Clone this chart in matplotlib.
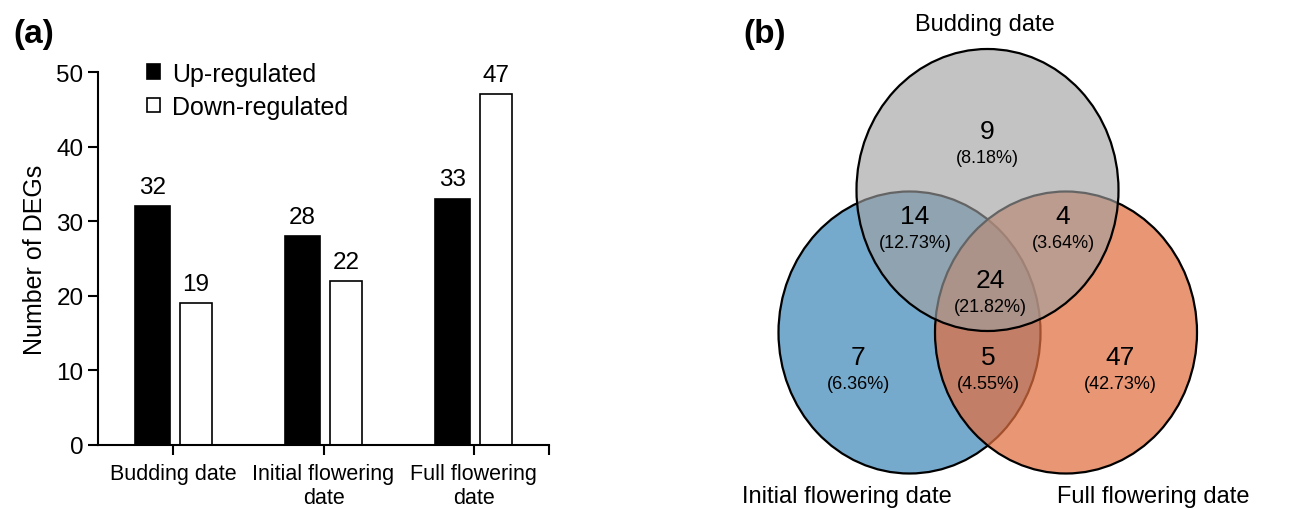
import numpy as np
import matplotlib.pyplot as plt
from matplotlib.patches import Ellipse

plt.rcParams['font.family'] = ['Liberation Sans', 'DejaVu Sans']

# (a) bar chart data
stages = ['Budding date', 'Initial flowering\ndate', 'Full flowering\ndate']
up = [32, 28, 33]
down = [19, 22, 47]

# (b) venn data
set_names = ['Budding date', 'Initial flowering date', 'Full flowering date']
regions = ['B', 'I', 'F', 'BI', 'BF', 'IF', 'BIF']
region_counts = [9, 7, 47, 14, 4, 5, 24]

fig = plt.figure(figsize=(13.08, 5.10), dpi=100)
W, H = 1308, 510

# ---- panel (a)
ax = fig.add_axes([98 / W, 64 / H, 451 / W, 373 / H])
x = np.arange(len(stages))
b1 = ax.bar(x - 0.139, up, 0.232, color='black', edgecolor='black', lw=1.2,
            label='Up-regulated')
b2 = ax.bar(x + 0.149, down, 0.213, color='white', edgecolor='black', lw=1.2,
            label='Down-regulated')
ax.bar_label(b1, padding=6, fontsize=17.5)
ax.bar_label(b2, padding=6, fontsize=17.5)

ax.set_xlim(-0.5, 2.5)
ax.set_ylim(0, 50)
ax.set_yticks(range(0, 51, 10))
ax.set_xticks(x)
ax.set_xticklabels(stages)
ax.set_xticks([2.5], minor=True)
ax.tick_params(axis='both', which='both', direction='out', length=7, width=1.5)
ax.tick_params(axis='y', labelsize=17.5)
ax.tick_params(axis='x', labelsize=15.5, pad=6)
for s in ['top', 'right']:
    ax.spines[s].set_visible(False)
for s in ['left', 'bottom']:
    ax.spines[s].set_linewidth(1.5)
ax.set_ylabel('Number of DEGs', fontsize=18, labelpad=7)

ax.legend(loc='upper left', bbox_to_anchor=(0.109, 1.028), frameon=False,
          fontsize=18, handlelength=0.52, handleheight=0.52, handletextpad=0.48,
          labelspacing=0.38, borderpad=0, borderaxespad=0)

# ---- panel (b)
ax2 = fig.add_axes([700 / W, 0, 608 / W, 1])
ax2.set_xlim(700, 1308)
ax2.set_ylim(510, 0)
ax2.axis('off')

cw, ch = 262, 282
circles = [
    ((909.5, 333.5), (118 / 255, 170 / 255, 205 / 255, 1.0)),   # initial
    ((1066, 333.5), (225 / 255, 110 / 255, 62 / 255, 0.72)),    # full
    ((987.5, 191), (160 / 255, 160 / 255, 160 / 255, 0.63)),    # budding
]
for z, (c, col) in enumerate(circles):
    ax2.add_patch(Ellipse(c, cw, ch, facecolor=col, edgecolor='black',
                          lw=1.6, zorder=z + 1))

label_pos = {'B': (987, 132), 'I': (858, 358), 'F': (1120, 358),
             'BI': (915, 217), 'BF': (1063, 217), 'IF': (988, 358),
             'BIF': (990, 281)}
total = sum(region_counts)
for r, n in zip(regions, region_counts):
    px, py = label_pos[r]
    ax2.text(px, py, str(n), ha='center', va='center', fontsize=19, zorder=5)
    ax2.text(px, py + 27, '(%.2f%%)' % (100 * n / total), ha='center',
             va='center', fontsize=13, zorder=5)

set_pos = [(985, 25), (847, 497), (1153, 497)]
for name, (px, py) in zip(set_names, set_pos):
    ax2.text(px, py, name, ha='center', va='center', fontsize=17)

fig.text(13 / W, 1 - 35 / H, '(a)', fontsize=24, fontweight='bold', va='center')
fig.text(743 / W, 1 - 35 / H, '(b)', fontsize=24, fontweight='bold', va='center')

fig.savefig('out.png', dpi=100)
